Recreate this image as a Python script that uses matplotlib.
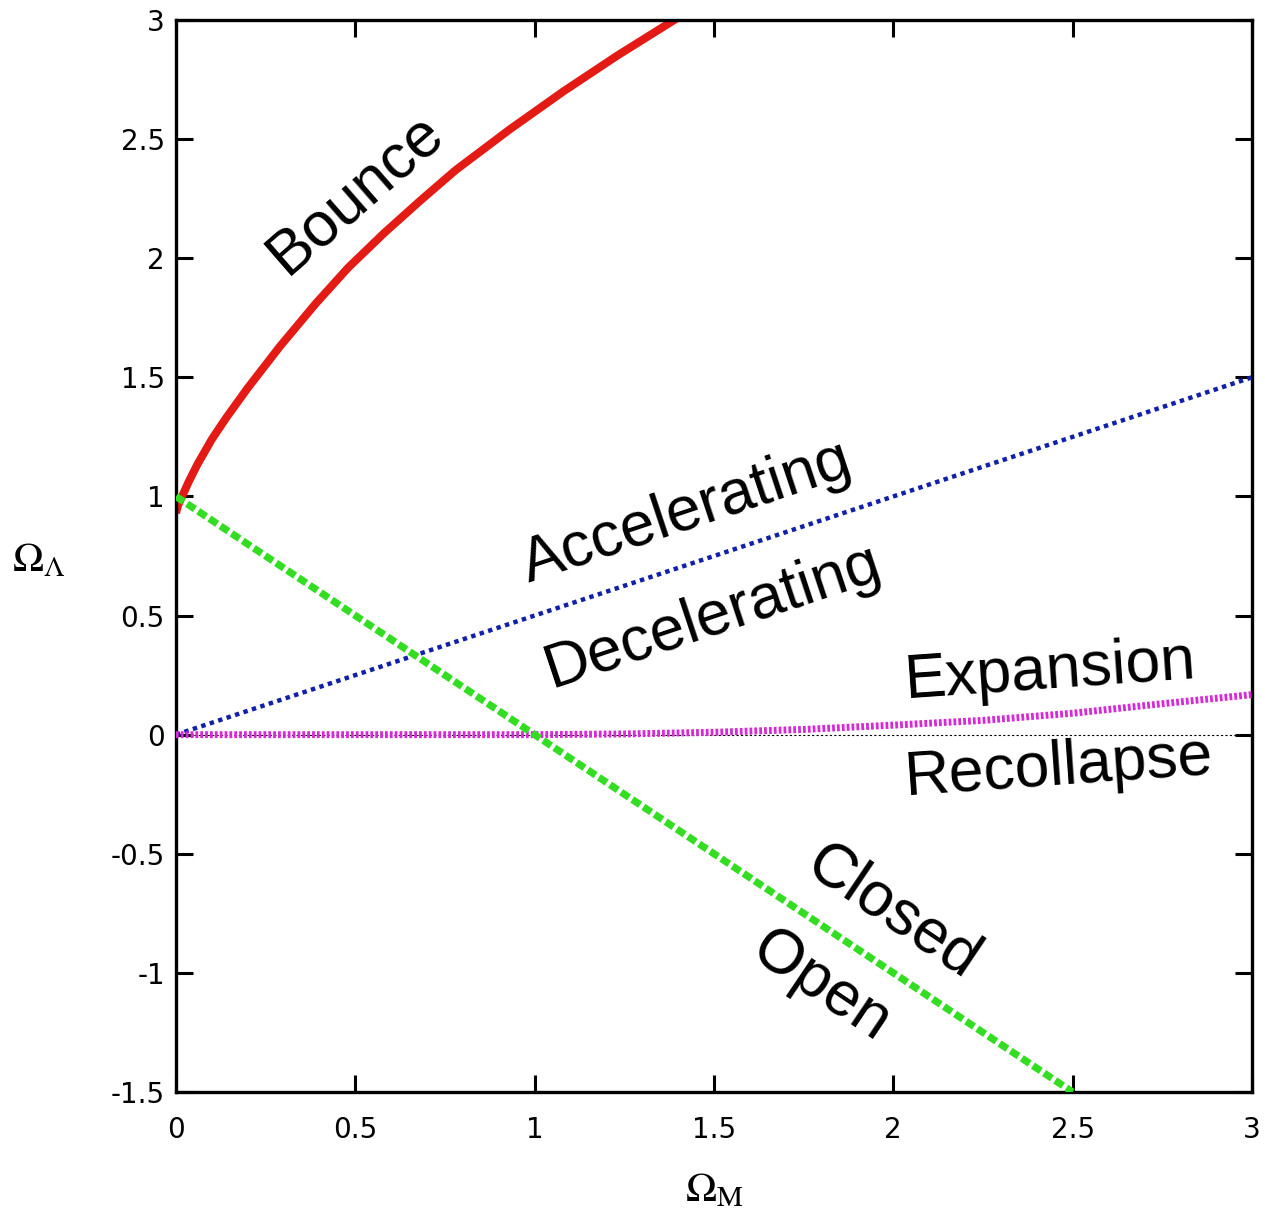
import matplotlib
matplotlib.use("Agg")
import matplotlib.pyplot as plt

plt.rcParams['font.family'] = ['Liberation Sans', 'DejaVu Sans']
plt.rcParams['mathtext.fontset'] = 'stix'
plt.rcParams['axes.unicode_minus'] = False

# bounce boundary
bounce_x = [0.0, 0.005, 0.02, 0.035, 0.06, 0.10, 0.14, 0.20, 0.29, 0.39,
            0.48, 0.58, 0.68, 0.78, 0.93, 1.08, 1.23, 1.40]
bounce_y = [0.93, 0.96, 1.01, 1.06, 1.135, 1.24, 1.33, 1.455, 1.63, 1.81,
            1.96, 2.105, 2.24, 2.37, 2.54, 2.70, 2.85, 3.01]

# accelerating / decelerating boundary
accel_x = [0.0, 3.0]
accel_y = [0.0, 1.5]

# expansion / recollapse boundary
recol_x = [0.0, 0.5, 1.0, 1.25, 1.5, 1.75, 2.0, 2.25, 2.5, 2.75, 3.0]
recol_y = [0.0, 0.0, 0.0, 0.003, 0.01, 0.022, 0.04, 0.06, 0.09, 0.13, 0.168]

# closed / open boundary
flat_x = [0.0, 2.5]
flat_y = [1.0, -1.5]

xticks = [0, 0.5, 1, 1.5, 2, 2.5, 3]
xtick_labels = ['0', '0.5', '1', '1.5', '2', '2.5', '3']
yticks = [-1.5, -1, -0.5, 0, 0.5, 1, 1.5, 2, 2.5, 3]
ytick_labels = ['-1.5', '-1', '-0.5', '0', '0.5', '1', '1.5', '2', '2.5', '3']

fig = plt.figure(figsize=(12.65, 12.10), dpi=100)
ax = fig.add_axes([0.1391, 0.0975, 0.8506, 0.886])

ax.plot([0, 3], [0, 0], color='black', lw=0.8, ls=(0, (2, 2)), zorder=1)
ax.plot(bounce_x, bounce_y, color='#e41a14', lw=5.8, solid_capstyle='butt',
        solid_joinstyle='round', zorder=2)
ax.plot(accel_x, accel_y, color='#1020a8', lw=3.2, ls=(0, (1.0, 1.0)), zorder=3)
ax.plot(recol_x, recol_y, color='#d62ad6', lw=5.0, ls=(0, (0.4, 0.3)), zorder=4)
ax.plot(flat_x, flat_y, color='#33dd22', lw=5.2, ls=(0, (1.3, 0.55)), zorder=5)

ax.set_xlim(0, 3)
ax.set_ylim(-1.5, 3)
ax.set_xticks(xticks)
ax.set_xticklabels(xtick_labels)
ax.set_yticks(yticks)
ax.set_yticklabels(ytick_labels)
ax.tick_params(direction='in', length=12, width=2.2, top=True, right=True,
               labelsize=20)
ax.tick_params(axis='x', pad=17)
ax.tick_params(axis='y', pad=8)
for lab in ax.get_xticklabels() + ax.get_yticklabels():
    lab.set_family('DejaVu Sans')
for s in ax.spines.values():
    s.set_linewidth(2.4)

fs = 45
ax.text(0.50, 2.27, 'Bounce', rotation=41, fontsize=fs, ha='center', va='center')
ax.text(1.425, 0.93, 'Accelerating', rotation=18.4, fontsize=fs, ha='center', va='center')
ax.text(1.497, 0.494, 'Decelerating', rotation=18.4, fontsize=fs, ha='center', va='center')
ax.text(2.437, 0.267, 'Expansion', rotation=4, fontsize=fs, ha='center', va='center')
ax.text(2.462, -0.14, 'Recollapse', rotation=4, fontsize=fs, ha='center', va='center')
ax.text(2.0, -0.744, 'Closed', rotation=-34, fontsize=fs, ha='center', va='center')
ax.text(1.798, -1.055, 'Open', rotation=-34, fontsize=fs, ha='center', va='center')

fig.text(0.031, 0.537, r'$\Omega_\Lambda$', fontsize=30, ha='center', va='center')
fig.text(0.565, 0.0165, r'$\Omega_\mathrm{M}$', fontsize=30, ha='center', va='center')

fig.savefig('out.png', dpi=100)
